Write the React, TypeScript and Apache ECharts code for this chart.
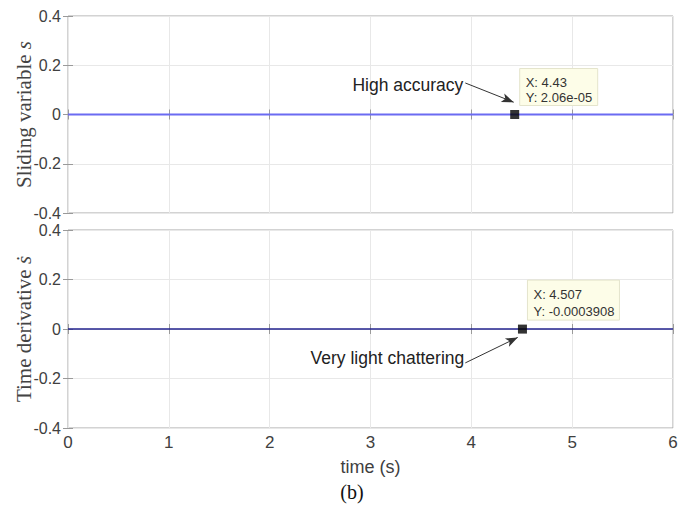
import React, { useEffect, useRef } from "react";
import * as echarts from "echarts";

const xTicks = [0, 1, 2, 3, 4, 5, 6];
const yTicks = [-0.4, -0.2, 0, 0.2, 0.4];
const sTime = [0, 4.43, 6];
const sValues = [0, 2.06e-5, 0];
const dTime = [0, 4.507, 6];
const dValues = [0, -0.0003908, 0];
const tip1 = { x: 4.43, y: 2.06e-5, xl: "X: 4.43", yl: "Y: 2.06e-05" };
const tip2 = { x: 4.507, y: -0.0003908, xl: "X: 4.507", yl: "Y: -0.0003908" };
const arrow1 = { from: [3.94, 0.128], to: [4.42, 0.05], text: "High accuracy" };
const arrow2 = { from: [3.94, -0.137], to: [4.46, -0.034], text: "Very light chattering" };

const sans = "'Liberation Sans', Arial, Helvetica, sans-serif";
const serif = "'Liberation Serif', 'Times New Roman', serif";

export default function App() {
  const ref = useRef<HTMLDivElement>(null);
  useEffect(() => {
    if (!ref.current) return;
    const chart = echarts.init(ref.current, null, { renderer: "svg" });
    const grids = [
      { left: 68, top: 16, width: 605, height: 197, show: true, borderColor: "#a6a6a6", borderWidth: 1, backgroundColor: "#fff", containLabel: false, outerBoundsMode: "none" },
      { left: 68, top: 230, width: 605, height: 198, show: true, borderColor: "#a6a6a6", borderWidth: 1, backgroundColor: "#fff", containLabel: false, outerBoundsMode: "none" },
    ];
    const xAxisBase = (gi: number, pos: string, labels: boolean, split: boolean) => ({
      type: "value",
      gridIndex: gi,
      position: pos,
      min: xTicks[0],
      max: xTicks[xTicks.length - 1],
      interval: 1,
      nameMoveOverlap: false,
      axisLine: { show: false },
      axisTick: { show: true, inside: true, length: 5, lineStyle: { color: "#9a9a9a" } },
      axisLabel: { show: labels, color: "#404040", fontSize: 17, fontFamily: sans, margin: 6 },
      splitLine: { show: split, lineStyle: { color: "#e8e8e8", width: 1 } },
    });
    const yAxisBase = (gi: number, pos: string, labels: boolean, split: boolean, name: string) => ({
      type: "value",
      gridIndex: gi,
      position: pos,
      min: yTicks[0],
      max: yTicks[yTicks.length - 1],
      interval: 0.2,
      name,
      nameLocation: "middle",
      nameGap: 34,
      nameMoveOverlap: false,
      nameTextStyle: {
        fontFamily: serif,
        fontSize: 21,
        color: "#444",
        rich: { i: { fontFamily: serif, fontSize: 21, fontStyle: "italic", color: "#444" } },
      },
      axisLine: { show: false },
      axisTick: { show: true, inside: true, length: 5, lineStyle: { color: "#9a9a9a" } },
      axisLabel: {
        show: labels,
        color: "#404040",
        fontSize: 16,
        fontFamily: sans,
        margin: 7,
        formatter: (v: number) => (Math.abs(v) < 1e-9 ? "0" : String(Math.round(v * 10) / 10)),
      },
      splitLine: { show: split, lineStyle: { color: "#e8e8e8", width: 1 } },
    });
    const bottomX: any = xAxisBase(1, "bottom", true, true);
    bottomX.name = "time (s)";
    bottomX.nameLocation = "middle";
    bottomX.nameGap = 30;
    bottomX.nameTextStyle = { fontFamily: sans, fontSize: 18, color: "#404040" };
    const arrowLine = (a: any) => ({
      silent: true,
      symbol: ["none", "arrow"],
      symbolSize: [7, 12],
      label: { show: false },
      lineStyle: { color: "#333", width: 1, type: "solid" },
      data: [[{ coord: a.from }, { coord: a.to }]],
    });
    chart.setOption({
      animation: false,
      backgroundColor: "#fff",
      grid: grids,
      xAxis: [
        xAxisBase(0, "bottom", false, true),
        xAxisBase(0, "top", false, false),
        bottomX,
        xAxisBase(1, "top", false, false),
      ],
      yAxis: [
        yAxisBase(0, "left", true, true, "Sliding variable {i|s}"),
        yAxisBase(0, "right", false, false, ""),
        yAxisBase(1, "left", true, true, "Time derivative {i|ṡ}"),
        yAxisBase(1, "right", false, false, ""),
      ],
      series: [
        {
          type: "line",
          xAxisIndex: 0,
          yAxisIndex: 0,
          data: sTime.map((t, i) => [t, sValues[i]]),
          showSymbol: false,
          lineStyle: { color: "#6b6bf2", width: 2 },
          markLine: arrowLine(arrow1),
        },
        {
          type: "line",
          xAxisIndex: 2,
          yAxisIndex: 2,
          data: dTime.map((t, i) => [t, dValues[i]]),
          showSymbol: false,
          lineStyle: { color: "#23238f", width: 1.5 },
          markLine: arrowLine(arrow2),
        },
        {
          type: "scatter",
          xAxisIndex: 0,
          yAxisIndex: 0,
          symbol: "rect",
          symbolSize: 9,
          itemStyle: { color: "#000" },
          data: [[tip1.x, tip1.y]],
          z: 5,
        },
        {
          type: "scatter",
          xAxisIndex: 2,
          yAxisIndex: 2,
          symbol: "rect",
          symbolSize: 9,
          itemStyle: { color: "#000" },
          data: [[tip2.x, tip2.y]],
          z: 5,
        },
      ],
    });

    const p1 = chart.convertToPixel({ xAxisIndex: 0, yAxisIndex: 0 }, [tip1.x, tip1.y]) as number[];
    const p2 = chart.convertToPixel({ xAxisIndex: 2, yAxisIndex: 2 }, [tip2.x, tip2.y]) as number[];
    const a1 = chart.convertToPixel({ xAxisIndex: 0, yAxisIndex: 0 }, arrow1.from) as number[];
    const a2 = chart.convertToPixel({ xAxisIndex: 2, yAxisIndex: 2 }, arrow2.from) as number[];
    const tipBox = (p: number[], dx: number, dy: number, w: number, h: number, y2: number, t: any) => ({
      type: "group",
      x: p[0] + dx,
      y: p[1] + dy,
      z: 10,
      children: [
        { type: "rect", shape: { x: 0, y: 0, width: w, height: h }, style: { fill: "#fdfde8", stroke: "#e4e4cc", lineWidth: 1 } },
        { type: "text", x: 6, y: 14, style: { text: t.xl, font: `13px ${sans}`, fill: "#333", verticalAlign: "middle" } },
        { type: "text", x: 6, y: y2, style: { text: t.yl, font: `13px ${sans}`, fill: "#333", verticalAlign: "middle" } },
      ],
    });
    chart.setOption({
      graphic: [
        tipBox(p1, 5, -46, 78, 37, 29, tip1),
        tipBox(p2, 5, -49, 92, 40, 31, tip2),
        { type: "text", x: a1[0] - 2, y: a1[1] + 2, z: 10, style: { text: arrow1.text, font: `17.5px ${sans}`, fill: "#222", align: "right", verticalAlign: "middle" } },
        { type: "text", x: a2[0] - 1, y: a2[1] - 5, z: 10, style: { text: arrow2.text, font: `17.5px ${sans}`, fill: "#222", align: "right", verticalAlign: "middle" } },
        { type: "text", x: 352, y: 492, style: { text: "(b)", font: `20px ${serif}`, fill: "#111", align: "center", verticalAlign: "middle" } },
      ],
    });
    return () => chart.dispose();
  }, []);
  return (
    <div
      ref={ref}
      style={{ position: "absolute", left: 0, top: 0, width: 688, height: 506, background: "#fff" }}
    />
  );
}
